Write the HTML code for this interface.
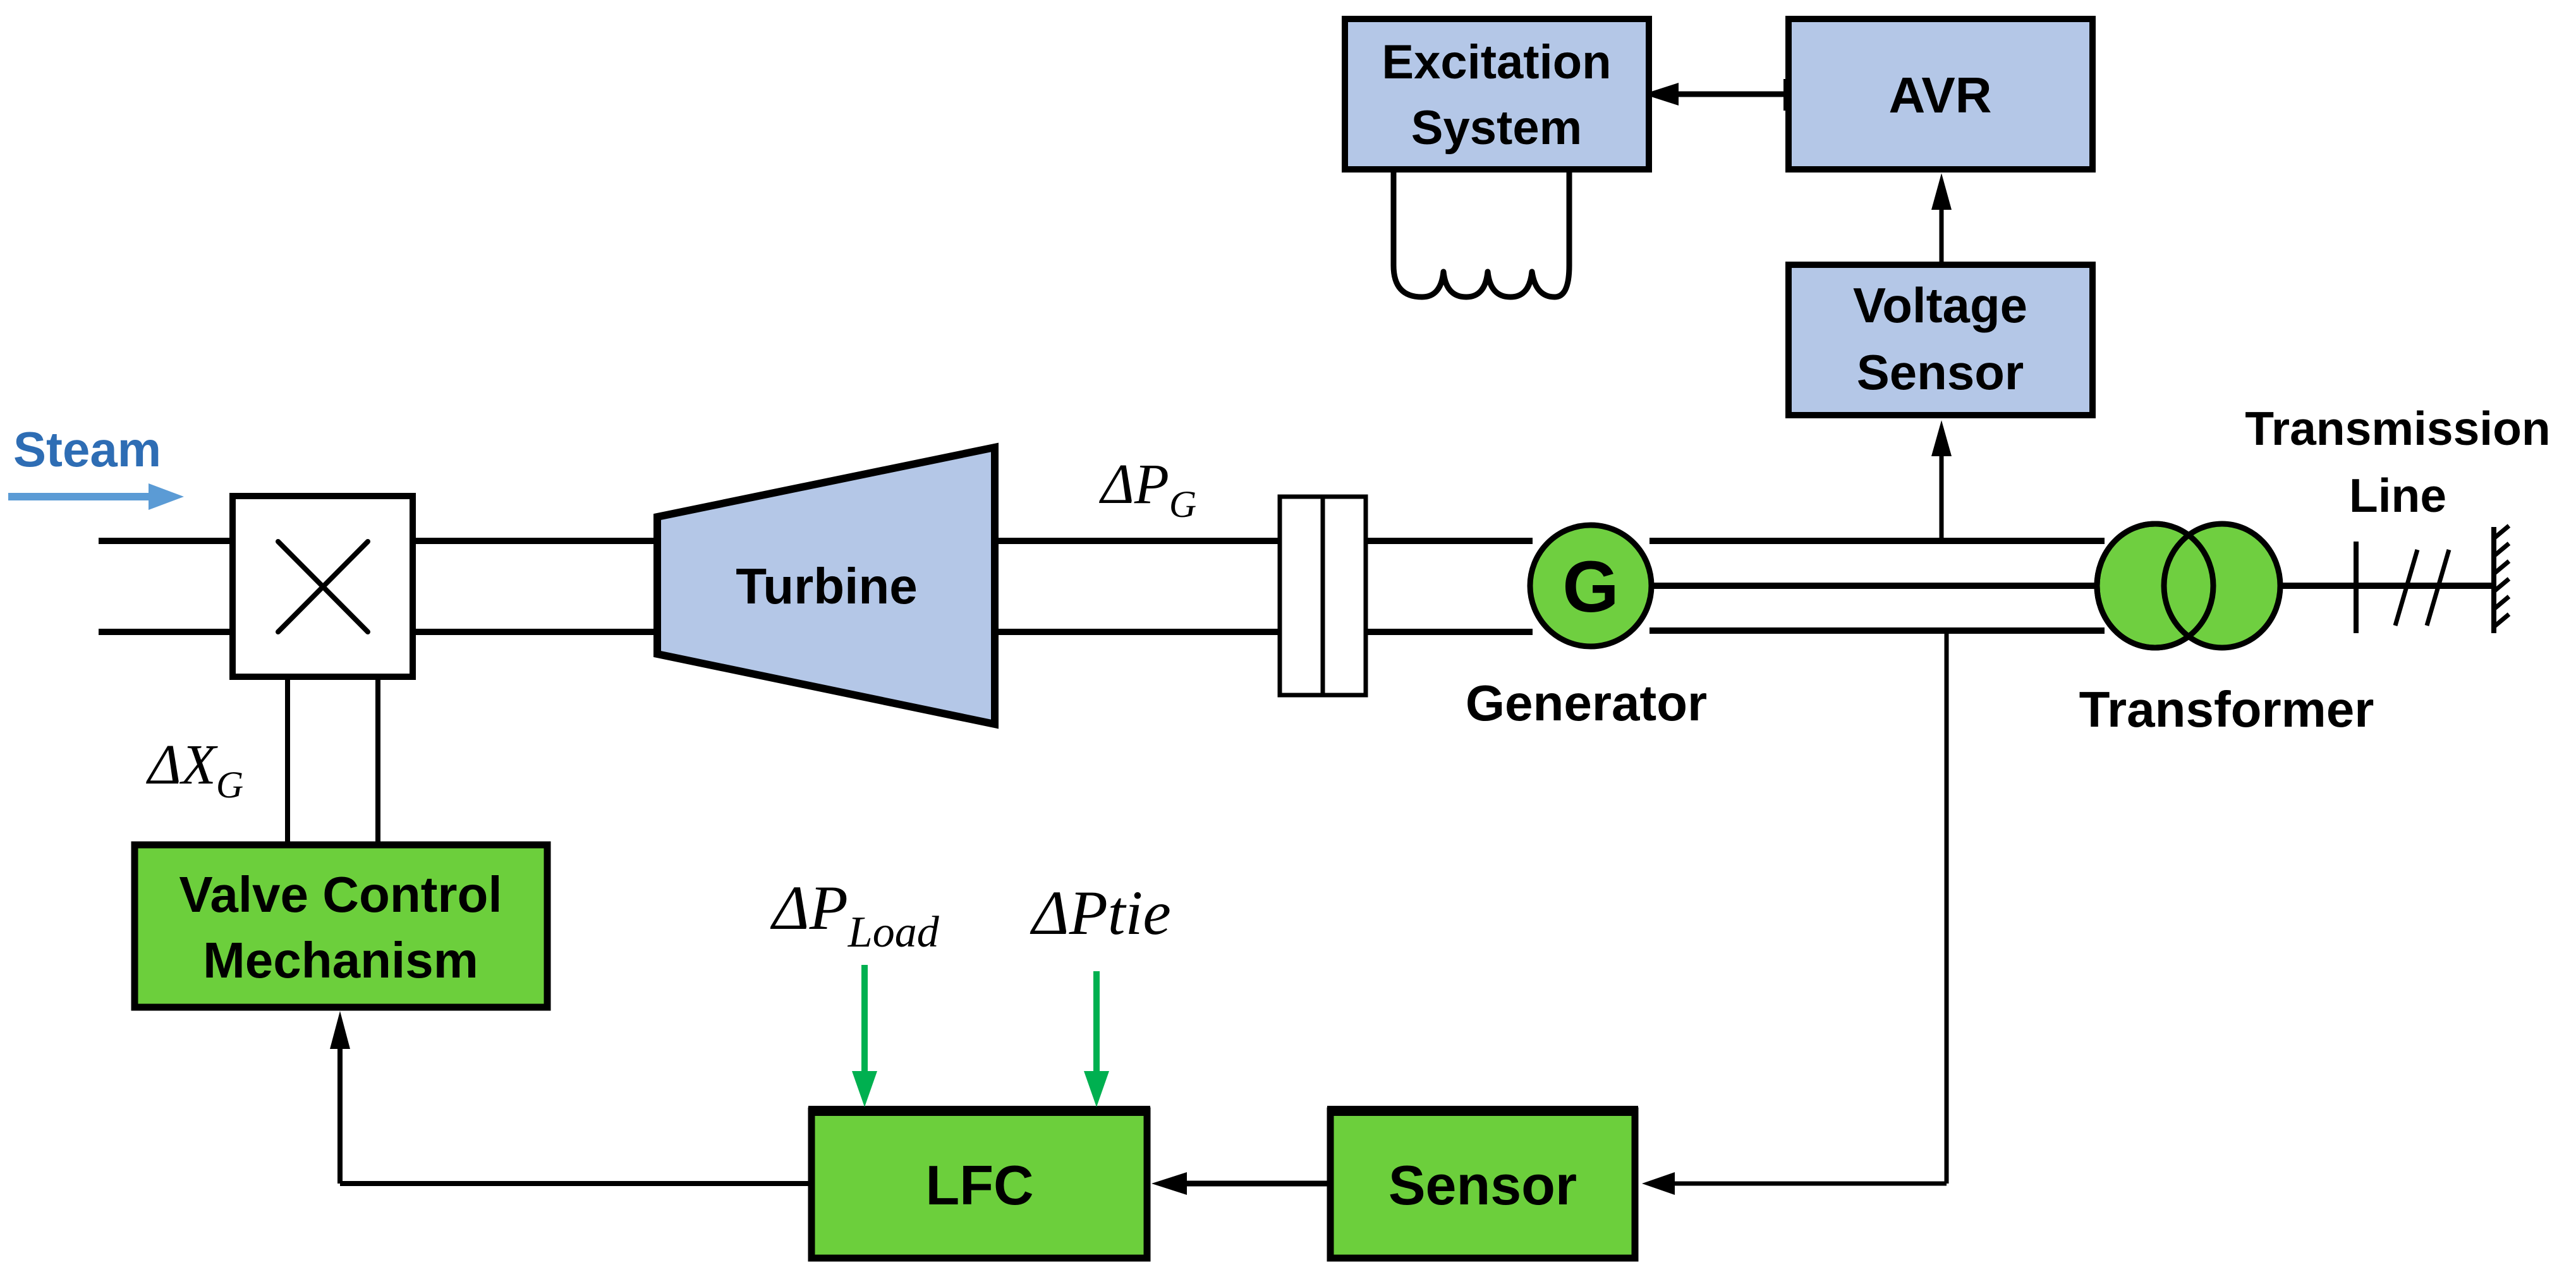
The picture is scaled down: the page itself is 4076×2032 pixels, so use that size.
<!DOCTYPE html>
<html><head><meta charset="utf-8"><style>
html,body{margin:0;padding:0;background:#fff;}
svg{display:block;}
.lb{font-family:"Liberation Sans",sans-serif;font-weight:bold;fill:#000;}
.m{font-family:"Liberation Serif",serif;font-style:italic;fill:#000;}
</style></head><body>
<svg width="4076" height="2032" viewBox="0 0 4076 2032" xmlns="http://www.w3.org/2000/svg">
<g stroke="#000" stroke-width="10" fill="none">
<line x1="156" y1="856" x2="365" y2="856"/>
<line x1="156" y1="1000" x2="365" y2="1000"/>
<line x1="656" y1="856" x2="1035" y2="856"/>
<line x1="656" y1="1000" x2="1035" y2="1000"/>
<line x1="1578" y1="856" x2="2023" y2="856"/>
<line x1="1578" y1="1000" x2="2023" y2="1000"/>
<line x1="2163" y1="856" x2="2425" y2="856"/>
<line x1="2163" y1="1000" x2="2425" y2="1000"/>
<line x1="2610" y1="856" x2="3330" y2="856"/>
<line x1="2617" y1="927" x2="3330" y2="927"/>
<line x1="2610" y1="998" x2="3330" y2="998"/>
<line x1="3600" y1="927" x2="3946" y2="927"/>
<line x1="455" y1="1074" x2="455" y2="1335" stroke-width="8"/>
<line x1="598" y1="1074" x2="598" y2="1335" stroke-width="8"/>
<line x1="3080" y1="998" x2="3080" y2="1873" stroke-width="7"/>
<line x1="3080" y1="1873" x2="2640" y2="1873" stroke-width="7"/>
<line x1="2100" y1="1873" x2="1870" y2="1873" stroke-width="9"/>
<line x1="1279" y1="1873" x2="538" y2="1873" stroke-width="8"/>
<line x1="538" y1="1873" x2="538" y2="1660" stroke-width="8"/>
<line x1="3072" y1="856" x2="3072" y2="720" stroke-width="7"/>
<line x1="3072" y1="415" x2="3072" y2="330" stroke-width="7"/>
<line x1="2826" y1="149" x2="2650" y2="149" stroke-width="9"/>
<line x1="2826" y1="125" x2="2826" y2="175" stroke-width="8"/>
<line x1="3728" y1="857" x2="3728" y2="1002" stroke-width="8"/>
<line x1="3790" y1="990" x2="3825" y2="870" stroke-width="7"/>
<line x1="3840" y1="990" x2="3875" y2="870" stroke-width="7"/>
<line x1="3946" y1="834" x2="3946" y2="1002" stroke-width="8"/>
<path d="M3946 852 L3970 832 M3946 880 L3970 860 M3946 908 L3970 888 M3946 936 L3970 916 M3946 964 L3970 944 M3946 992 L3970 972" stroke-width="7"/>
<path d="M2205 272 V420 Q2205 470 2250 470 Q2280 470 2284 430 Q2288 470 2320 470 Q2350 470 2354 430 Q2358 470 2390 470 Q2420 470 2424 430 Q2430 470 2460 470 Q2483 470 2483 420 V272" stroke-width="9" stroke-linejoin="round"/>
</g>
<g fill="#000">
<polygon points="538,1600 522,1660 554,1660"/>
<polygon points="1822,1873 1878,1855 1878,1891"/>
<polygon points="2598,1873 2650,1855 2650,1891"/>
<polygon points="3072,665 3056,722 3088,722"/>
<polygon points="3072,274 3056,332 3088,332"/>
<polygon points="2600,149 2656,131 2656,167"/>
</g>
<line x1="13" y1="786" x2="250" y2="786" stroke="#5b9bd5" stroke-width="12"/>
<polygon points="291,786 235,765 235,807" fill="#5b9bd5"/>
<text x="21" y="738" font-family="Liberation Sans,sans-serif" font-weight="bold" font-size="78" fill="#2e6db4">Steam</text>
<rect x="368" y="785" width="285" height="286" fill="#fff" stroke="#000" stroke-width="10"/>
<g stroke="#000" stroke-width="8" stroke-linecap="round"><line x1="440" y1="857" x2="582" y2="1000"/><line x1="582" y1="857" x2="440" y2="1000"/></g>
<polygon points="1040,818 1574,708 1574,1146 1040,1035" fill="#b4c7e7" stroke="#000" stroke-width="12"/>
<text x="1308" y="955" text-anchor="middle" class="lb" font-size="80">Turbine</text>
<rect x="2025" y="786" width="68" height="314" fill="#fff" stroke="#000" stroke-width="7"/>
<rect x="2093" y="786" width="68" height="314" fill="#fff" stroke="#000" stroke-width="7"/>
<circle cx="2517" cy="927" r="96" fill="#6fcf40" stroke="#000" stroke-width="9"/>
<text x="2517" y="968" text-anchor="middle" class="lb" font-size="115">G</text>
<text x="2510" y="1140" text-anchor="middle" class="lb" font-size="80">Generator</text>
<ellipse cx="3410" cy="927" rx="92" ry="98" fill="#6fcf40" stroke="#000" stroke-width="9"/>
<ellipse cx="3516" cy="927" rx="92" ry="98" fill="#6fcf40" stroke="#000" stroke-width="9"/>
<ellipse cx="3410" cy="927" rx="92" ry="98" fill="none" stroke="#000" stroke-width="9"/>
<text x="3523" y="1150" text-anchor="middle" class="lb" font-size="80">Transformer</text>
<text x="3794" y="704" text-anchor="middle" class="lb" font-size="75">Transmission</text>
<text x="3794" y="810" text-anchor="middle" class="lb" font-size="75">Line</text>
<rect x="2128" y="30" width="481" height="238" fill="#b4c7e7" stroke="#000" stroke-width="10"/>
<text x="2368" y="124" text-anchor="middle" class="lb" font-size="76">Excitation</text>
<text x="2368" y="228" text-anchor="middle" class="lb" font-size="76">System</text>
<rect x="2830" y="30" width="481" height="238" fill="#b4c7e7" stroke="#000" stroke-width="10"/>
<text x="3070" y="178" text-anchor="middle" class="lb" font-size="80">AVR</text>
<rect x="2830" y="419" width="481" height="238" fill="#b4c7e7" stroke="#000" stroke-width="10"/>
<text x="3070" y="510" text-anchor="middle" class="lb" font-size="78">Voltage</text>
<text x="3070" y="616" text-anchor="middle" class="lb" font-size="78">Sensor</text>
<rect x="213" y="1337" width="653" height="257" fill="#6ccf3c" stroke="#000" stroke-width="11"/>
<text x="539" y="1443" text-anchor="middle" class="lb" font-size="80">Valve Control</text>
<text x="539" y="1547" text-anchor="middle" class="lb" font-size="80">Mechanism</text>
<rect x="1284" y="1758" width="531" height="233" fill="#6ccf3c" stroke="#000" stroke-width="11"/>
<text x="1550" y="1906" text-anchor="middle" class="lb" font-size="88">LFC</text>
<rect x="2105" y="1758" width="482" height="233" fill="#6ccf3c" stroke="#000" stroke-width="11"/>
<text x="2346" y="1906" text-anchor="middle" class="lb" font-size="88">Sensor</text>
<line x1="1279" y1="1758" x2="1820" y2="1758" stroke="#000" stroke-width="16"/>
<line x1="2100" y1="1758" x2="2592" y2="1758" stroke="#000" stroke-width="16"/>
<g stroke="#00b050" stroke-width="10"><line x1="1368" y1="1527" x2="1368" y2="1700"/><line x1="1735" y1="1537" x2="1735" y2="1700"/></g>
<polygon points="1368,1752 1348,1695 1388,1695" fill="#00b050"/>
<polygon points="1735,1752 1715,1695 1755,1695" fill="#00b050"/>
<text x="1222" y="1470" class="m" font-size="100">ΔP<tspan font-size="70" dy="28">Load</tspan></text>
<text x="1633" y="1478" class="m" font-size="100">ΔPtie</text>
<text x="1742" y="796" class="m" font-size="90">ΔP<tspan font-size="60" dy="22">G</tspan></text>
<text x="234" y="1240" class="m" font-size="90">ΔX<tspan font-size="60" dy="22">G</tspan></text>
</svg>
</body></html>
